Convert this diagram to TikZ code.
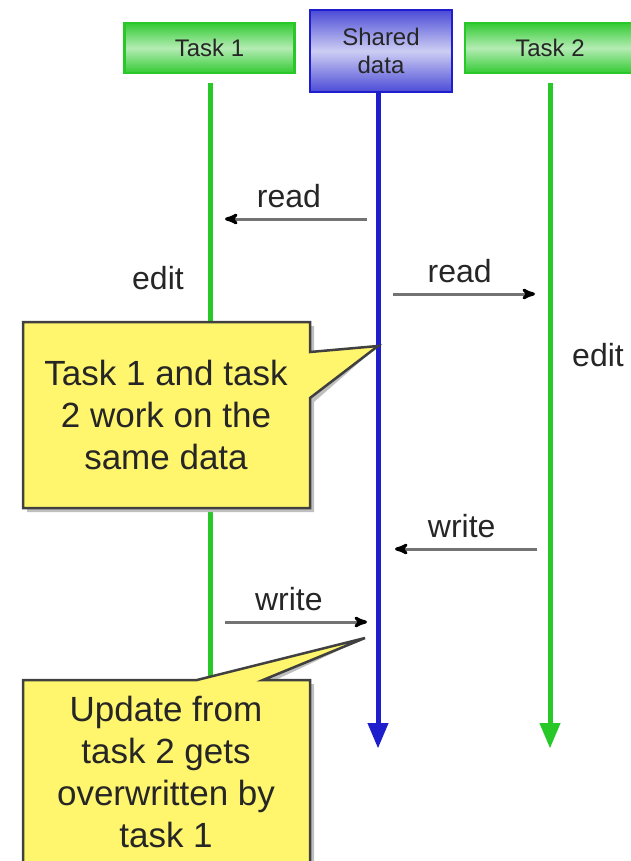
\documentclass[tikz,border=0pt]{standalone}
\usepackage{fontspec}
\setmainfont{Liberation Sans}
\usetikzlibrary{arrows,positioning}
\definecolor{taskgreen}{RGB}{40,200,40}
\definecolor{datablue}{RGB}{30,30,205}
\definecolor{noteyellow}{RGB}{255,246,110}

\begin{document}
\begin{tikzpicture}[x=1pt,y=-1pt,>=stealth']

	\tikzstyle{head}=[
		rectangle,
		line width=2.5pt,
		inner sep=0pt,
		align=center,
		text=black!85,
		font=\fontsize{24}{28}\selectfont
	]
	\tikzstyle{taskhead}=[head, draw=taskgreen, top color=taskgreen!95, bottom color=taskgreen!95, middle color=taskgreen!35, minimum width=170, minimum height=50]
	\tikzstyle{datahead}=[head, draw=datablue, top color=datablue!80, bottom color=datablue!80, middle color=datablue!22, minimum width=142, minimum height=82]
	\tikzstyle{life}=[line width=5pt]
	\tikzstyle{post}=[-stealth', line width=3pt, draw=black!55, arrows={-stealth'[black]}]
	\tikzstyle{lbl}=[font=\fontsize{32}{36}\selectfont, text=black!85]
	\tikzstyle{note}=[fill=noteyellow, draw=black!75, line width=2.5pt, line join=miter]
	\tikzstyle{notetext}=[font=\fontsize{35}{42}\selectfont, text=black!85, align=center]

	\useasboundingbox (0,0) rectangle (630,861);

	% headers
	\node [taskhead] (T1) at (209.5,48) {Task 1};
	\node [datahead] (SD) at (381,51) {Shared\\data};
	\node [taskhead] (T2) at (550,48) {Task 2};

	% lifelines
	\coordinate (T1end) at (210,700);
	\coordinate (SDend) at (378,748);
	\coordinate (T2end) at (550,748);
	\draw [life, taskgreen] (T1.south -| T1end) ++(0,9) -- (T1end);
	\draw [life, datablue, -triangle 45] (SD.south -| SDend) -- (SDend);
	\draw [life, taskgreen, -triangle 45] (T2.south -| T2end) ++(0,9) -- (T2end);

	% messages
	\coordinate (rA1) at (367,219); \coordinate (rA2) at (225,219);
	\coordinate (rB1) at (393,294); \coordinate (rB2) at (535,294);
	\coordinate (wB1) at (537,549); \coordinate (wB2) at (395,549);
	\coordinate (wA1) at (225,622); \coordinate (wA2) at (367,622);
	\draw [post] (rA1) -- node [lbl, above=6pt, pos=0.55] (readA) {read} (rA2);
	\draw [post] (rB1) -- node [lbl, above=6pt, pos=0.47] (readB) {read} (rB2);
	\draw [post] (wB1) -- node [lbl, above=6pt, pos=0.53] (writeB) {write} (wB2);
	\draw [post] (wA1) -- node [lbl, above=6pt, pos=0.45] (writeA) {write} (wA2);

	\node [lbl] (editA) at (158,278) {edit};
	\node [lbl] (editB) at (598,355) {edit};

	% callouts
	\coordinate (tipA) at (378,346);
	\coordinate (tipB) at (365,638);
	\fill [black!25, shift={(4,4)}] (23,322) -- (310,322) -- (310,352) -- (tipA) -- (310,398) -- (310,508) -- (23,508) -- cycle;
	\draw [note] (23,322) -- (310,322) -- (310,352) -- (tipA) -- (310,398) -- (310,508) -- (23,508) -- cycle;
	\node [notetext] (noteA) at (166,415) {Task 1 and task\\2 work on the\\same data};

	\fill [black!25, shift={(4,4)}] (23,680) -- (197,680) -- (tipB) -- (263,680) -- (310,680) -- (310,890) -- (23,890) -- cycle;
	\draw [note] (23,680) -- (197,680) -- (tipB) -- (263,680) -- (310,680) -- (310,890) -- (23,890) -- cycle;
	\node [notetext] (noteB) at (166,772) {Update from\\task 2 gets\\overwritten by\\task 1};

\end{tikzpicture}
\end{document}
